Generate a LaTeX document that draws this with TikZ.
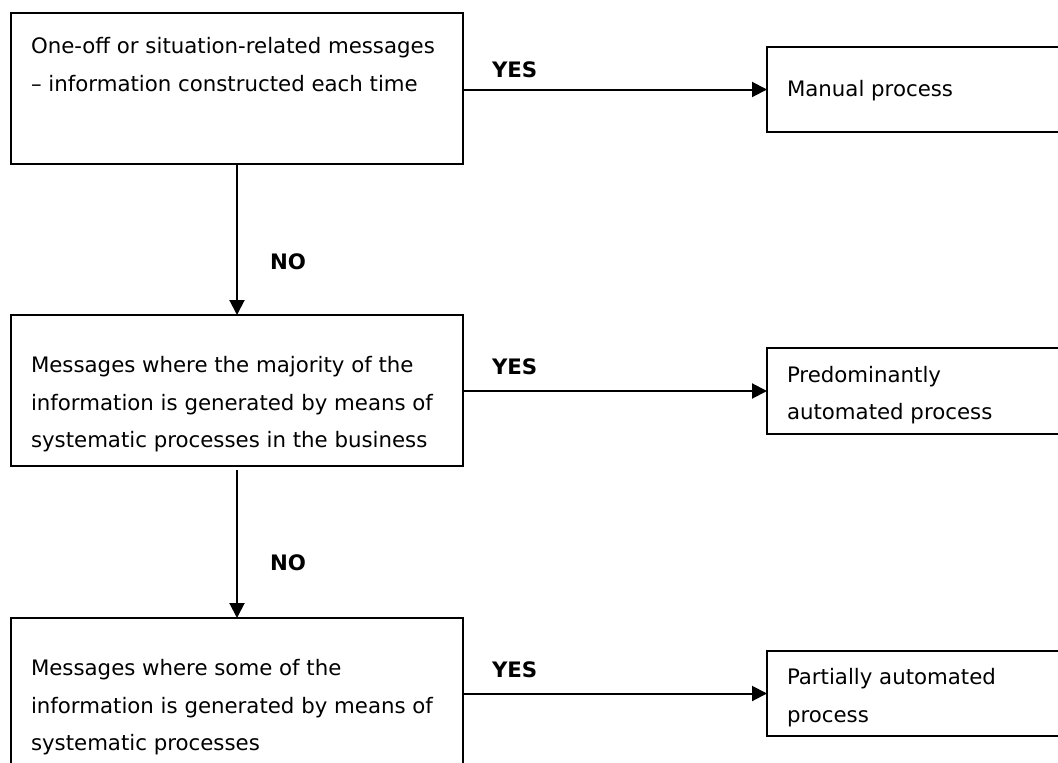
\documentclass[tikz,border=0pt]{standalone}
\usepackage{fontspec}
\setmainfont{DejaVu Sans}
\usetikzlibrary{arrows.meta}
\tikzset{
  box/.style={draw, line width=2pt, rectangle, anchor=north west, inner sep=0pt, outer sep=0pt},
  txt/.style={anchor=west, inner sep=0pt, outer sep=0pt, align=left,
              font=\fontsize{21.3}{37.5}\selectfont},
  lbl/.style={anchor=west, inner sep=0pt, outer sep=0pt,
              font=\fontsize{21.3}{37.5}\selectfont\bfseries},
  arr/.style={line width=2pt, -{Triangle[length=15pt,width=15pt]}}
}
\begin{document}
\begin{tikzpicture}[x=1pt,y=-1pt]
\useasboundingbox (0,0) rectangle (1058,763);
\clip (0,0) rectangle (1058,763);
% left boxes
\node[box, minimum width=452pt, minimum height=151pt] (b1) at (11,13) {};
\node[box, minimum width=452pt, minimum height=151pt] (b2) at (11,315) {};
\node[box, minimum width=452pt, minimum height=200pt] (b3) at (11,618) {};
% right boxes
\node[box, minimum width=320pt, minimum height=85pt] (r1) at (767,47) {};
\node[box, minimum width=320pt, minimum height=86pt] (r2) at (767,348) {};
\node[box, minimum width=320pt, minimum height=85pt] (r3) at (767,651) {};
% texts
\node[txt] (t1) at (31,65) {\strut One-off or situation-related messages\\\strut – information constructed each time};
\node[txt] (t2) at (31,402.5) {\strut Messages where the majority of the\\\strut information is generated by means of\\\strut systematic processes in the business};
\node[txt] (t3) at (31,705.5) {\strut Messages where some of the\\\strut information is generated by means of\\\strut systematic processes};
\node[txt] (s1) at (787,89) {\strut Manual process};
\node[txt] (s2) at (787,393.5) {\strut Predominantly\\\strut automated process};
\node[txt] (s3) at (787,696) {\strut Partially automated\\\strut process};
% connectors
\draw[arr] (b1.east |- r1.west) -- (r1.west);
\draw[arr] (b2.east |- r2.west) -- (r2.west);
\draw[arr] (b3.east |- r3.west) -- (r3.west);
\draw[arr] (b1.south) -- (b2.north);
\draw[arr, shorten <=4pt] (b2.south) -- (b3.north);
% labels
\node[lbl] (y1) at (492,70) {\strut YES};
\node[lbl] (y2) at (492,367) {\strut YES};
\node[lbl] (y3) at (492,670) {\strut YES};
\node[lbl] (n1) at (270,262) {\strut NO};
\node[lbl] (n2) at (270,563) {\strut NO};
\end{tikzpicture}
\end{document}
